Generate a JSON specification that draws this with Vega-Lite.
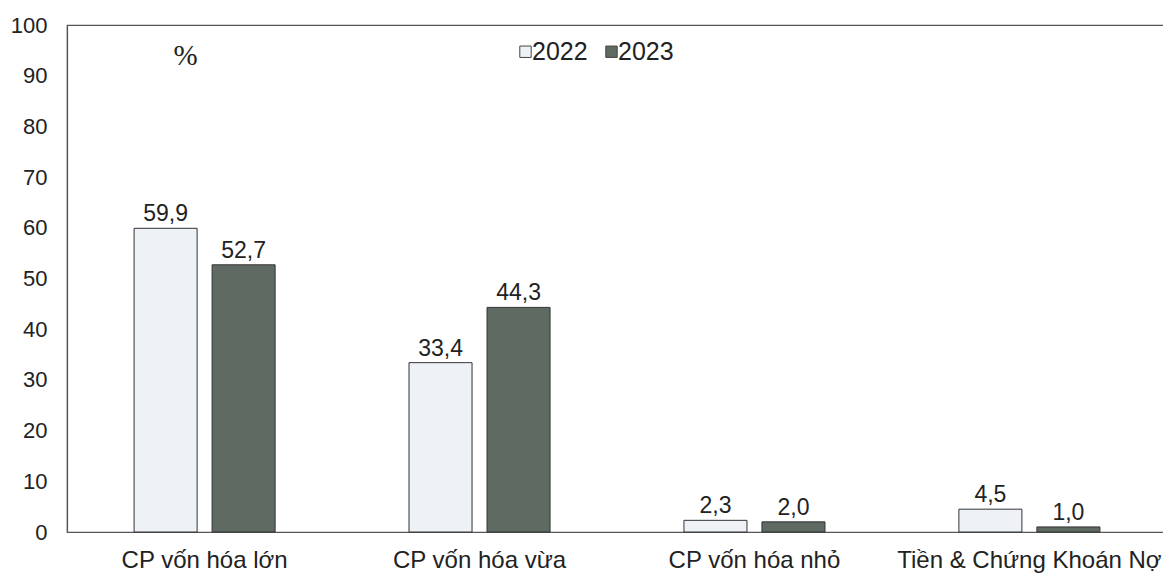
{
  "$schema": "https://vega.github.io/schema/vega-lite/v6.json",
  "autosize": {"type": "none"},
  "padding": {"left": 67, "top": 25, "right": 0, "bottom": 50},
  "width": 1100,
  "height": 507,
  "background": "white",
  "config": {
    "locale": {"number": {"decimal": ",", "thousands": ".", "grouping": [3], "currency": ["", ""]}},
    "font": "Liberation Sans",
    "view": {"stroke": "#555", "strokeWidth": 1.2},
    "axis": {"labelFont": "Liberation Sans", "labelColor": "#222", "labelFontSize": 22, "domainColor": "#555", "domainWidth": 1.2, "ticks": false, "grid": false}
  },
  "data": {"values": [
    {"cat": "CP vốn hóa lớn", "year": "2022", "value": 59.9},
    {"cat": "CP vốn hóa lớn", "year": "2023", "value": 52.7},
    {"cat": "CP vốn hóa vừa", "year": "2022", "value": 33.4},
    {"cat": "CP vốn hóa vừa", "year": "2023", "value": 44.3},
    {"cat": "CP vốn hóa nhỏ", "year": "2022", "value": 2.3},
    {"cat": "CP vốn hóa nhỏ", "year": "2023", "value": 2.0},
    {"cat": "Tiền & Chứng Khoán Nợ", "year": "2022", "value": 4.5},
    {"cat": "Tiền & Chứng Khoán Nợ", "year": "2023", "value": 1.0}
  ]},
  "encoding": {
    "x": {"field": "cat", "type": "nominal", "sort": null,
      "scale": {"paddingInner": 0.487, "paddingOuter": 0.244},
      "axis": {"title": null, "labelAngle": 0, "labelPadding": 16, "labelFontSize": 24, "labelLimit": 1000, "labelOverlap": false, "labelBound": false}},
    "xOffset": {"field": "year", "type": "nominal", "scale": {"paddingInner": 0.192, "paddingOuter": 0}},
    "y": {"field": "value", "type": "quantitative",
      "scale": {"domain": [0, 100], "nice": false},
      "axis": {"values": [0,10,20,30,40,50,60,70,80,90,100], "labelPadding": 20, "title": "%", "titleAngle": 0, "titleX": 118, "titleY": 30, "titleFont": "Liberation Serif", "titleFontSize": 29, "titleFontWeight": "normal", "titleColor": "#222", "titleAlign": "center", "titleBaseline": "middle"}}
  },
  "layer": [
    {
      "mark": {"type": "bar", "stroke": "#333", "strokeWidth": 1},
      "encoding": {
        "fill": {"field": "year", "type": "nominal",
          "scale": {"domain": ["2022", "2023"], "range": ["#eef1f6", "#5e6a62"]},
          "legend": {"title": null, "orient": "none", "legendX": 446, "legendY": 14, "direction": "horizontal",
            "symbolType": "square", "symbolSize": 130, "symbolStrokeColor": "#444", "symbolStrokeWidth": 1,
            "labelFontSize": 25, "labelFont": "Liberation Sans", "labelColor": "#222", "labelOffset": -6, "columnPadding": 11}}
      }
    },
    {
      "mark": {"type": "text", "fontSize": 23, "color": "#222", "baseline": "alphabetic", "dy": -7},
      "encoding": {"text": {"field": "value", "type": "quantitative", "format": ".1f"}}
    }
  ]
}
